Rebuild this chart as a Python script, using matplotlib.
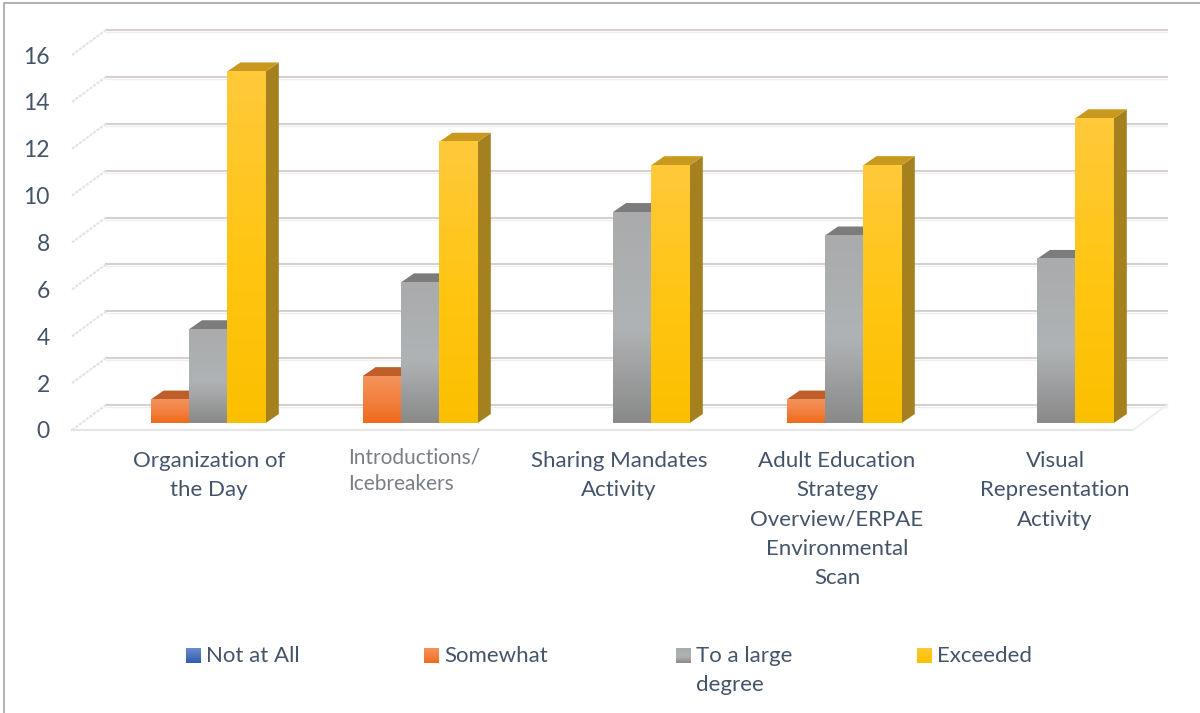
import matplotlib
matplotlib.use("Agg")
import matplotlib.pyplot as plt
import numpy as np
from matplotlib.lines import Line2D
from matplotlib.patches import Polygon

categories = ["Organization of\nthe Day", "Introductions/\nIcebreakers", "Sharing Mandates\nActivity",
              "Adult Education\nStrategy\nOverview/ERPAE\nEnvironmental\nScan", "Visual\nRepresentation\nActivity"]
series_names = ["Not at All", "Somewhat", "To a large\ndegree", "Exceeded"]
not_at_all = [0, 0, 0, 0, 0]
somewhat = [1, 2, 0, 1, 0]
large_degree = [4, 6, 9, 8, 7]
exceeded = [15, 12, 11, 11, 13]
series = [not_at_all, somewhat, large_degree, exceeded]
y_ticks = [0, 2, 4, 6, 8, 10, 12, 14, 16]

# colours per series: gradient top, middle, bottom, top face, side
front_top = ["#6C8CCB", "#F4935C", "#A9ABAC", "#FFC93A"]
front_mid = ["#4A72BC", "#F27F3C", "#B0B3B5", "#FFC511"]
front_bot = ["#2F5CA8", "#EE6B1C", "#8A8A8A", "#FCBF00"]
top_face = ["#3F5F9A", "#BE5F2A", "#7C7C7C", "#C8981F"]
side_col = ["#2F4A80", "#A8521F", "#6E6E6E", "#A5801F"]
text_col = "#44546A"

W, H = 1200, 713
LEFT, RIGHT, BASE, TOP = 72, 1133, 430, 55   # front plane in pixels
PX_Y = (BASE - TOP) / 16
CAT_PX = 212
FIRST_PX = 189

plt.rcParams["font.family"] = ["Lato", "DejaVu Sans"]
fig = plt.figure(figsize=(W / 100, H / 100), dpi=100, facecolor="white")
ax = fig.add_axes([LEFT / W, (H - BASE) / H, (RIGHT - LEFT) / W, (BASE - TOP) / H])
xlim = ((LEFT - FIRST_PX) / CAT_PX, (RIGHT - FIRST_PX) / CAT_PX)


def dx(px):
    return px / CAT_PX


def dy(px):
    return px / PX_Y


def data_x(px):
    return (px - FIRST_PX) / CAT_PX


def data_y(px):
    return (BASE - px) / PX_Y


def gradient(x0, x1, y0, y1, c_top, c_mid, c_bot, z):
    c = matplotlib.colors.LinearSegmentedColormap.from_list("g", [(0, c_top), (0.55, c_mid), (1, c_bot)])
    ax.imshow(np.linspace(0, 1, 64).reshape(-1, 1), extent=(x0, x1, y0, y1), origin="upper", cmap=c,
              aspect="auto", zorder=z, clip_on=False, interpolation="bilinear")


# back wall, floor and side gridlines
depth_x, depth_y = dx(34), dy(25)
for v in y_ticks:
    ax.plot([xlim[0] + depth_x, xlim[1] + depth_x], [v + depth_y] * 2, color="#D6D1D0", lw=1.5, zorder=1, clip_on=False)
    ax.plot([xlim[0] + depth_x, xlim[1] + depth_x], [v + depth_y - dy(2)] * 2, color="#F0EEEE", lw=1, zorder=1, clip_on=False)
    ax.plot([xlim[0], xlim[0] + depth_x], [v, v + depth_y], color="#E4E2E2", lw=1.5, ls=(0, (1.5, 0.6)), zorder=1, clip_on=False)
ax.plot([xlim[0], xlim[1]], [0, 0], color="#E6E4E4", lw=1.6, zorder=1, clip_on=False)
ax.plot([xlim[1], xlim[1] + depth_x], [0, depth_y], color="#F0EEEE", lw=1.4, zorder=1, clip_on=False)

# bars
bar_w = 38.4 / CAT_PX
lift = dy(7)
off_x, off_y = dx(13), dy(9)
z = 3
for c in range(len(categories)):
    for s, vals in enumerate(series):
        v = vals[c]
        if v == 0:
            continue
        x0 = c + (s - 2) * bar_w
        x1 = x0 + bar_w
        y0, y1 = lift, lift + v
        ax.bar(x0, v, width=bar_w, bottom=lift, align="edge", color=front_bot[s], zorder=z, clip_on=False)
        gradient(x0, x1, y0, y1, front_top[s], front_mid[s], front_bot[s], z + 0.1)
        ax.add_patch(Polygon([(x1, y0), (x1 + off_x, y0 + off_y), (x1 + off_x, y1 + off_y), (x1, y1)],
                             closed=True, fc=side_col[s], ec="none", zorder=z, clip_on=False))
        ax.add_patch(Polygon([(x0, y1), (x0 + off_x, y1 + off_y), (x1 + off_x, y1 + off_y), (x1, y1)],
                             closed=True, fc=top_face[s], ec="none", zorder=z, clip_on=False))
        z += 1

# axis text
ax.set_xlim(*xlim)
ax.set_ylim(0, 16)
ax.set_yticks(y_ticks)
ax.tick_params(axis="y", length=0, pad=16, labelsize=16.5, labelcolor=text_col)
ax.set_xticks([])
for sp in ax.spines.values():
    sp.set_visible(False)
ax.patch.set_alpha(0)

label_px = [209, 0, 619, 837, 1055]
for i, name in enumerate(categories):
    if i == 1:
        ax.text(data_x(348), data_y(447), name, ha="left", va="top", fontsize=15, color="#7A7F85",
                linespacing=1.41, clip_on=False)
    else:
        ax.text(data_x(label_px[i]), data_y(451), name, ha="center", va="top", fontsize=16, color=text_col,
                linespacing=1.58, clip_on=False)

# legend
hand_px = [186, 424, 676, 917]
for s, name in enumerate(series_names):
    gradient(data_x(hand_px[s]), data_x(hand_px[s] + 15), data_y(663), data_y(648), front_top[s], front_mid[s], front_bot[s], 5)
    ax.text(data_x(hand_px[s] + 20), data_y(646), name, ha="left", va="top", fontsize=16, color=text_col,
            linespacing=1.58, clip_on=False)
ax.set_xlim(*xlim)
ax.set_ylim(0, 16)

# chart border, only left and top are in frame
fig.add_artist(Line2D([4 / W, 4 / W, 1], [0, 1 - 3 / H, 1 - 3 / H], color="#B0B0B0", lw=1.4))

fig.savefig("out.png", dpi=100)
